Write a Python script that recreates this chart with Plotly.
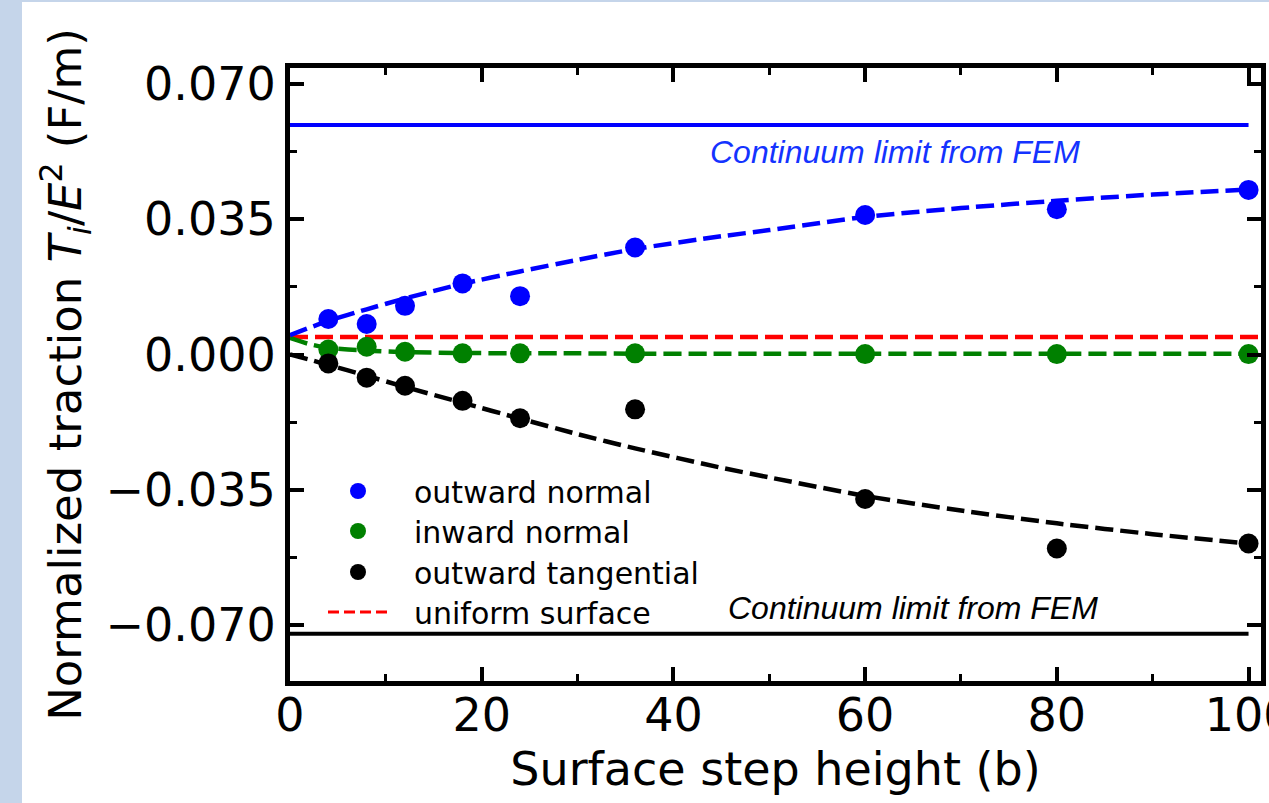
import plotly.graph_objects as go

# ---------------- data ----------------
step_height = [4, 8, 12, 18, 24, 36, 60, 80, 100]
outward_normal = [0.0092, 0.0079, 0.0126, 0.0184, 0.0151, 0.0277, 0.0361, 0.0376, 0.0426]
inward_normal = [0.0013, 0.0020, 0.0007, 0.0003, 0.0003, 0.0003, 0.0001, 0.0001, 0.0001]
outward_tangential = [-0.0023, -0.0060, -0.0081, -0.0120, -0.0165, -0.0142, -0.0374, -0.0502, -0.0489]

fit_x = [0, 2, 4, 8, 12, 18, 24, 30, 36, 45, 50, 60, 70, 80, 90, 100]
fit_outward_normal = [0.0050, 0.0069, 0.0087, 0.0117, 0.0145, 0.0183, 0.0215, 0.0245, 0.0273,
                      0.0306, 0.0322, 0.0356, 0.0379, 0.0398, 0.0414, 0.0427]
fit_inward_normal = [0.0043, 0.0027, 0.0017, 0.0010, 0.0006, 0.0004, 0.0003, 0.0003, 0.0002,
                     0.0002, 0.0002, 0.0002, 0.0002, 0.0002, 0.0002, 0.0002]
fit_outward_tangential = [0.0, -0.0013, -0.0027, -0.0055, -0.0084, -0.0125, -0.0166, -0.0206, -0.0243,
                          -0.0293, -0.0318, -0.0366, -0.0404, -0.0437, -0.0465, -0.0489]

uniform_surface = 0.0045
continuum_outward = 0.0594
continuum_tangential = -0.0723
continuum_x = [0, 100]

x_range = [0, 101.3]
y_range = [-0.0845, 0.07415]
y_ticks = [-0.070, -0.035, 0.0, 0.035, 0.070]
y_ticktext = ["\u22120.070", "\u22120.035", "0.000", "0.035", "0.070"]
x_ticks = [0, 20, 40, 60, 80, 100]

legend_names = ["outward normal", "inward normal", "outward tangential", "uniform surface"]

FONT = "DejaVu Sans"
BLUE, GREEN, BLACK, RED = "#0000ff", "#008000", "#000000", "#ff0000"
DASH = "18px,7px"
# legend sample for the red line: leading gap, then four short dashes
LEGEND_DASH = "0px,21px,11px,5px,11px,5px,11px,5px,11px,120px"

# layout geometry (pixels)
W, H = 1269, 803
L, R, T, B = 290, 8, 68, 122
PW, PH = W - L - R, H - T - B


def px_x(p):
    return (p - L) / PW


def px_y(p):
    return (H - B - p) / PH


fig = go.Figure()

# continuum limits
fig.add_trace(go.Scatter(x=continuum_x, y=[continuum_outward] * 2, mode="lines",
                         line=dict(color=BLUE, width=4), showlegend=False, hoverinfo="skip"))
fig.add_trace(go.Scatter(x=continuum_x, y=[continuum_tangential] * 2, mode="lines",
                         line=dict(color=BLACK, width=4), showlegend=False, hoverinfo="skip"))

# uniform surface (full axis width)
fig.add_trace(go.Scatter(x=[0, x_range[1]], y=[uniform_surface] * 2, mode="lines",
                         line=dict(color=RED, width=4.5, dash=DASH), showlegend=False, hoverinfo="skip"))

# fitted dashed curves
for ys, c in [(fit_inward_normal, GREEN), (fit_outward_tangential, BLACK), (fit_outward_normal, BLUE)]:
    fig.add_trace(go.Scatter(x=fit_x, y=ys, mode="lines", line=dict(color=c, width=4.5, dash=DASH,
                             shape="spline", smoothing=0.6), showlegend=False, hoverinfo="skip"))

# points (each with its own one-item legend for exact spacing)
legend_ids = ["legend", "legend2", "legend3", "legend4"]
for ys, c, name, lg in [(outward_normal, BLUE, legend_names[0], legend_ids[0]),
                        (inward_normal, GREEN, legend_names[1], legend_ids[1]),
                        (outward_tangential, BLACK, legend_names[2], legend_ids[2])]:
    fig.add_trace(go.Scatter(x=step_height, y=ys, mode="markers", name=name, legend=lg,
                             marker=dict(color=c, size=20, line=dict(width=0))))

# legend entry for the uniform surface line
fig.add_trace(go.Scatter(x=[None], y=[None], mode="lines", name=legend_names[3], legend=legend_ids[3],
                         line=dict(color=RED, width=3, dash=LEGEND_DASH)))

fig.add_annotation(x=63.07, y=0.0524, text="<i>Continuum limit from FEM</i>", showarrow=False,
                   font=dict(family="Liberation Sans", size=32, color="#1433ff"))
fig.add_annotation(x=64.95, y=-0.0656, text="<i>Continuum limit from FEM</i>", showarrow=False,
                   font=dict(family="Liberation Sans", size=32, color=BLACK))

# background strips of the slide
fig.add_shape(type="rect", xref="paper", yref="paper", x0=px_x(-10), x1=px_x(22),
              y0=px_y(H + 10), y1=px_y(-10), fillcolor="#c5d5ea", line_width=0, layer="below")
fig.add_shape(type="rect", xref="paper", yref="paper", x0=px_x(-10), x1=px_x(W + 10),
              y0=px_y(2), y1=px_y(-10), fillcolor="#c5d5ea", line_width=0, layer="below")

axis_common = dict(showline=True, linecolor="black", linewidth=5, mirror="allticks",
                   ticks="inside", ticklen=14, tickwidth=4, tickcolor="black",
                   showgrid=False, zeroline=False,
                   tickfont=dict(family=FONT, size=46, color="black"))

fig.update_xaxes(range=x_range, tickvals=x_ticks, ticklabeloverflow="allow", ticklabelstandoff=-10,
                 minor=dict(dtick=10, tick0=0, ticks="inside", ticklen=7, tickwidth=3, tickcolor="black"),
                 title=dict(text="Surface step height (b)", font=dict(family=FONT, size=46, color="black"),
                            standoff=8),
                 **axis_common)
fig.update_yaxes(range=y_range, tickvals=y_ticks, ticktext=y_ticktext,
                 minor=dict(dtick=0.0175, tick0=0, ticks="inside", ticklen=7, tickwidth=3, tickcolor="black"),
                 title=dict(text="Normalized traction <i>T</i><sub><i>i</i></sub>/<i>E</i><sup>2</sup> (F/m)",
                            font=dict(family=FONT, size=45, color="black"), standoff=11),
                 **axis_common)

legend_centers = [491, 531, 572, 612]
legend_common = dict(xanchor="left", yanchor="middle", bgcolor="rgba(0,0,0,0)", borderwidth=0,
                     itemwidth=102, itemsizing="trace",
                     font=dict(family=FONT, size=30, color="black"))
layout_legends = {}
for lg, cy in zip(legend_ids, legend_centers):
    layout_legends[lg] = dict(x=px_x(302), y=px_y(cy), **legend_common)

fig.update_layout(
    width=W, height=H,
    margin=dict(l=L, r=R, t=T, b=B, autoexpand=False),
    plot_bgcolor="white", paper_bgcolor="white",
    showlegend=True,
    **layout_legends,
)

fig.write_html("out.html")
